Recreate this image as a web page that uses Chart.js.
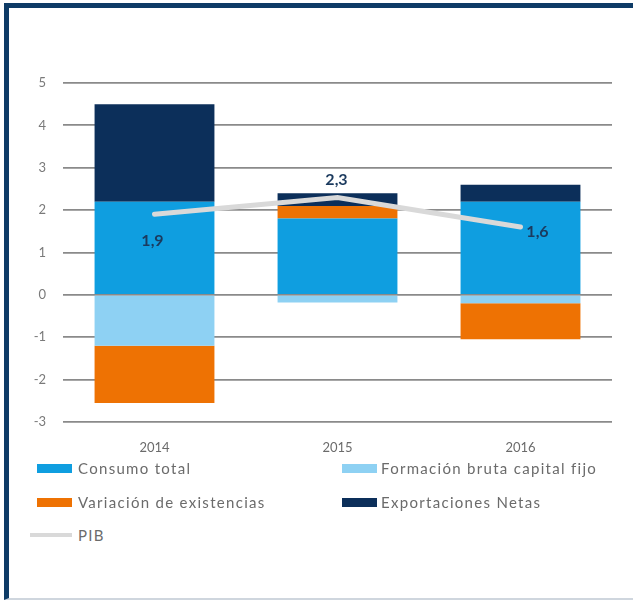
<!DOCTYPE html>
<html>
<head>
<meta charset="utf-8">
<script src="https://cdn.jsdelivr.net/npm/chart.js@4"></script>
<style>
  html, body { margin: 0; padding: 0; background: #ffffff; }
  body { width: 633px; height: 603px; position: relative; overflow: hidden; font-family: Lato, "Liberation Sans", sans-serif; }
  #frame { position: absolute; left: 4px; top: 3px; width: 629px; height: 597px;
           border-top: 5px solid #0e3b66; border-left: 5px solid #0e3b66; border-bottom: 2px solid #cfd6de; box-sizing: border-box; }
  #wrap { position: absolute; left: 0; top: 0; width: 633px; height: 462px; }
  .leg { position: absolute; font-size: 15px; color: #6b6b6b; letter-spacing: 1.3px; white-space: nowrap; line-height: 16px; }
  .sw { position: absolute; width: 35px; height: 9px; }
  .ln { position: absolute; width: 42px; height: 4px; }
</style>
</head>
<body>
<div id="frame"></div>
<div id="wrap"><canvas id="c" width="633" height="462"></canvas></div>
<div id="legend"></div>
<script>
// ---- data ----
const categories = ["2014", "2015", "2016"];
const consumoTotal = [2.2, 1.8, 2.2];
const formacionBruta = [-1.2, -0.18, -0.2];
const variacionExistencias = [-1.35, 0.3, -0.85];
const exportacionesNetas = [2.3, 0.3, 0.4];
const pib = [1.9, 2.3, 1.6];
const pibLabels = ["1,9", "2,3", "1,6"];
const yTicks = [5, 4, 3, 2, 1, 0, -1, -2, -3];

const seriesNames = ["Consumo total", "Formación bruta capital fijo", "Variación de existencias", "Exportaciones Netas", "PIB"];
const colors = ["#0f9ee0", "#8ed1f3", "#ee7203", "#0c2f5a", "#d9d9d9"];

// label offsets (style) relative to point
const labelOffsets = [[-2, 26], [-1, -18], [17, 5]];

const pibLabelPlugin = {
  id: 'pibLabels',
  afterDatasetsDraw(chart) {
    const meta = chart.getDatasetMeta(4);
    const ctx = chart.ctx;
    ctx.save();
    ctx.font = 'bold 16px Lato, "Liberation Sans", sans-serif';
    ctx.fillStyle = '#1b3a5e';
    ctx.textAlign = 'center';
    ctx.textBaseline = 'middle';
    meta.data.forEach((pt, i) => {
      ctx.fillText(pibLabels[i], pt.x + labelOffsets[i][0], pt.y + labelOffsets[i][1]);
    });
    ctx.restore();
  }
};

const barCommon = { categoryPercentage: 1.0, barPercentage: 0.655, order: 1, borderWidth: 0 };

new Chart(document.getElementById('c'), {
  type: 'bar',
  data: {
    labels: categories,
    datasets: [
      Object.assign({ label: seriesNames[0], data: consumoTotal, backgroundColor: colors[0] }, barCommon),
      Object.assign({ label: seriesNames[1], data: formacionBruta, backgroundColor: colors[1] }, barCommon),
      Object.assign({ label: seriesNames[2], data: variacionExistencias, backgroundColor: colors[2] }, barCommon),
      Object.assign({ label: seriesNames[3], data: exportacionesNetas, backgroundColor: colors[3] }, barCommon),
      { type: 'line', label: seriesNames[4], data: pib, borderColor: colors[4], backgroundColor: colors[4],
        borderWidth: 5, pointRadius: 0, tension: 0, order: 0, stack: 'pib', borderCapStyle: 'round' }
    ]
  },
  options: {
    responsive: false,
    animation: false,
    events: [],
    layout: { padding: { top: 83, right: 21, left: 0, bottom: 0 } },
    plugins: { legend: { display: false }, tooltip: { enabled: false } },
    scales: {
      x: {
        stacked: true,
        grid: { display: false, drawTicks: false },
        border: { display: false },
        ticks: { color: '#6b6b6b', font: { family: 'Lato', size: 13 }, padding: 18 },
        afterFit(s) { s.height = 40; }
      },
      y: {
        stacked: true,
        min: -3, max: 5,
        afterBuildTicks(s) { s.ticks = yTicks.map(v => ({ value: v })); },
        grid: { color: '#8a8a8a', lineWidth: 1.8, drawTicks: false },
        border: { display: false },
        ticks: { color: '#7a7a7a', font: { family: 'Lato', size: 13 }, padding: 17 },
        afterFit(s) { s.width = 63; }
      }
    }
  },
  plugins: [pibLabelPlugin]
});

// ---- HTML legend ----
const legendPos = [
  { sx: 37, tx: 78, y: 468, kind: 'box' },
  { sx: 342, tx: 381, y: 468, kind: 'box' },
  { sx: 37, tx: 78, y: 502, kind: 'box' },
  { sx: 342, tx: 381, y: 502, kind: 'box' },
  { sx: 30, tx: 78, y: 535, kind: 'line' }
];
const legend = document.getElementById('legend');
seriesNames.forEach((name, i) => {
  const p = legendPos[i];
  const sw = document.createElement('div');
  sw.className = p.kind === 'box' ? 'sw' : 'ln';
  sw.style.left = p.sx + 'px';
  sw.style.top = (p.y - (p.kind === 'box' ? 4 : 2)) + 'px';
  sw.style.background = colors[i];
  legend.appendChild(sw);
  const t = document.createElement('div');
  t.className = 'leg';
  t.textContent = name;
  t.style.left = p.tx + 'px';
  t.style.top = (p.y - 8) + 'px';
  legend.appendChild(t);
});
</script>
</body>
</html>
